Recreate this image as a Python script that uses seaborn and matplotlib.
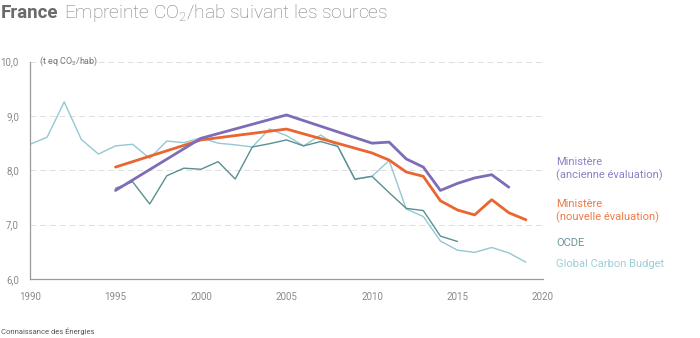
import matplotlib
matplotlib.use("Agg")
import matplotlib.pyplot as plt
import seaborn as sns
import pandas as pd
import numpy as np

# ---- data ----
gcb_years = list(range(1990, 2020))
gcb_vals = [8.48, 8.61, 9.26, 8.57, 8.30, 8.45, 8.48, 8.22, 8.54, 8.51,
            8.60, 8.50, 8.47, 8.43, 8.76, 8.64, 8.45, 8.65, 8.44, 7.83,
            7.89, 8.18, 7.29, 7.15, 6.70, 6.53, 6.49, 6.58, 6.48, 6.31]

ocde_years = list(range(1995, 2016))
ocde_vals = [7.67, 7.79, 7.38, 7.90, 8.04, 8.02, 8.16, 7.84, 8.43, 8.49,
             8.56, 8.45, 8.53, 8.44, 7.84, 7.89, 7.59, 7.30, 7.26, 6.79, 6.69]

anc_years = [1995, 2000, 2005, 2010, 2011, 2012, 2013, 2014, 2015, 2016, 2017, 2018]
anc_vals = [7.63, 8.59, 9.02, 8.50, 8.52, 8.21, 8.06, 7.63, 7.76, 7.86, 7.92, 7.69]

nouv_years = [1995, 2000, 2005, 2010, 2011, 2012, 2013, 2014, 2015, 2016, 2017, 2018, 2019]
nouv_vals = [8.06, 8.56, 8.76, 8.32, 8.19, 7.97, 7.89, 7.44, 7.27, 7.18, 7.46, 7.22, 7.09]

x_ticks = [1990, 1995, 2000, 2005, 2010, 2015, 2020]
y_ticks = [6.0, 7.0, 8.0, 9.0, 10.0]
y_labels = ["6,0", "7,0", "8,0", "9,0", "10,0"]

labels = ["Ministère\n(ancienne évaluation)", "Ministère\n(nouvelle évaluation)",
          "OCDE", "Global Carbon Budget"]

# ---- style ----
sns.set_theme(style="white")
plt.rcParams["font.family"] = ["Roboto", "DejaVu Sans"]
plt.rcParams["mathtext.fontset"] = "custom"
plt.rcParams["mathtext.rm"] = "Roboto"
plt.rcParams["mathtext.default"] = "regular"

W, H = 700, 338
fig = plt.figure(figsize=(7.0, 3.38), dpi=100)
ax = fig.add_axes([30 / W, 1 - 279 / H, (543 - 30) / W, (279 - 61.7) / H])

c_anc = "#7e6cb8"
c_nouv = "#ea6530"
c_ocde = "#5a8f91"
c_gcb = "#94c8d2"

df_gcb = pd.DataFrame({"année": gcb_years, "val": gcb_vals})
df_ocde = pd.DataFrame({"année": ocde_years, "val": ocde_vals})
df_anc = pd.DataFrame({"année": anc_years, "val": anc_vals})
df_nouv = pd.DataFrame({"année": nouv_years, "val": nouv_vals})

sns.lineplot(data=df_gcb, x="année", y="val", ax=ax, color=c_gcb, linewidth=1.0)
sns.lineplot(data=df_ocde, x="année", y="val", ax=ax, color=c_ocde, linewidth=1.0)
sns.lineplot(data=df_nouv, x="année", y="val", ax=ax, color=c_nouv, linewidth=2.0)
sns.lineplot(data=df_anc, x="année", y="val", ax=ax, color=c_anc, linewidth=2.0)

ax.set_xlim(1990, 2020)
ax.set_ylim(6, 10)
ax.set_xlabel("")
ax.set_ylabel("")
ax.set_xticks(x_ticks)
ax.set_xticklabels([str(t) for t in x_ticks])
ax.set_yticks(y_ticks)
ax.set_yticklabels(y_labels)

for y in y_ticks[1:]:
    ax.axhline(y, color="#dedede", linewidth=0.7, linestyle=(0, (6, 4)), zorder=0)

for s in ["top", "right"]:
    ax.spines[s].set_visible(False)
ax.spines["left"].set_color("#9a9a9a")
ax.spines["bottom"].set_color("#9a9a9a")
ax.spines["left"].set_linewidth(0.9)
ax.spines["bottom"].set_linewidth(0.9)

ax.tick_params(axis="x", direction="in", length=5, width=0.9, color="#c8c8c8",
               labelsize=7, labelcolor="#8a8a8a", pad=9)
ax.tick_params(axis="y", length=0, labelsize=7, labelcolor="#8a8a8a", pad=8)

# unit label
fig.text(39 / W, 1 - 61 / H, "(t eq CO$_2$/hab)", fontsize=6.5, color="#777777",
         va="center", ha="left")

# legend labels at right
def ftext(x, y, s, **kw):
    return fig.text(x / W, 1 - y / H, s, **kw)

ftext(556, 169, labels[0], fontsize=8, color="#8c82c4", va="center", ha="left", linespacing=1.25)
ftext(556, 211, labels[1], fontsize=8, color="#ef7a48", va="center", ha="left", linespacing=1.25)
ftext(556, 243, labels[2], fontsize=8, color="#6d9799", va="center", ha="left")
ftext(556, 264, labels[3], fontsize=8, color="#9ccfd8", va="center", ha="left")

# title
t1 = ftext(1, 17.5, "France", fontsize=13.5, fontweight="bold", color="#6a6a6a",
           va="baseline", ha="left")
fig.canvas.draw()
bb = t1.get_window_extent()
fig.text((bb.x1 + 6) / W, 1 - 17.5 / H, "Empreinte CO$_2$/hab suivant les sources",
         fontsize=13.8, color="#7a7a7a", fontweight="light", va="baseline", ha="left")

# source
ftext(1, 331, "Connaissance des Énergies", fontsize=5.5, color="#555555", va="center", ha="left")

fig.savefig("out.png", dpi=100)
